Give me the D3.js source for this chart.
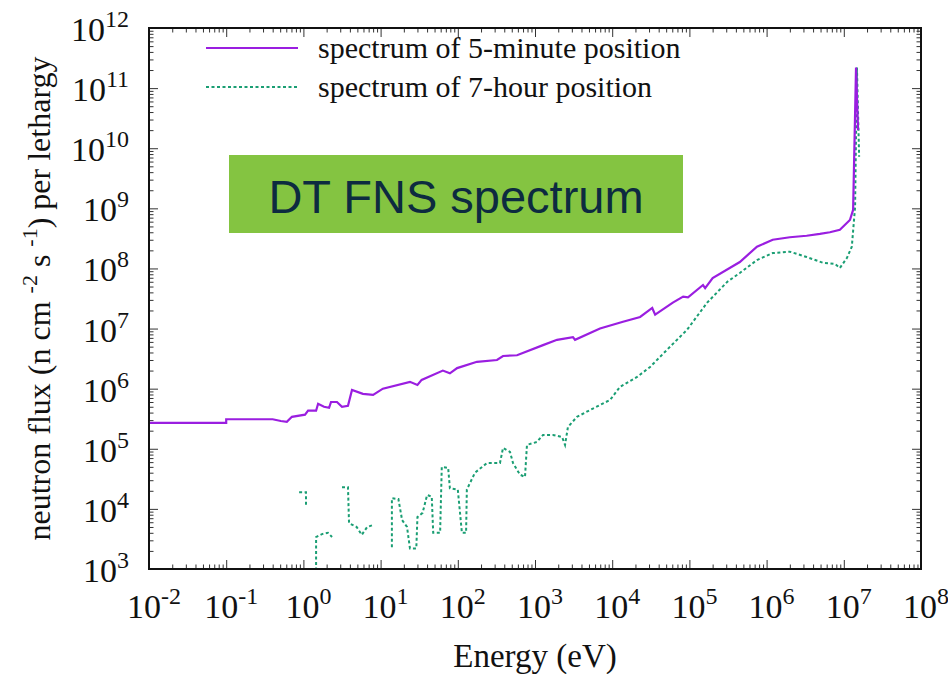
<!doctype html>
<html>
<head>
<meta charset="utf-8">
<script src="https://d3js.org/d3.v7.min.js"></script>
<style>
body {margin: 0; background: white;}
text {font-family: "Liberation Serif", "Times New Roman", serif; fill: #111;}
</style>
</head>
<body>
<svg width="948" height="674" class="chart"></svg>
<script>

// 5-minute position spectrum (energy eV, flux per lethargy)
var fiveMinE = [0.01, 0.1, 0.1, 0.40, 0.51, 0.61, 0.71, 1.05, 1.15, 1.46,
  1.55, 1.85, 2.15, 2.28, 2.72, 3.16, 3.78, 4.26, 5.9, 8.0,
  10.7, 24, 30, 34, 64, 79, 98, 177, 322, 385,
  585, 1270, 1930, 3100, 3300, 6950, 1.38e4, 2.3e4, 3.3e4, 3.6e4,
  6.1e4, 8.3e4, 9.6e4, 1.5e5, 1.6e5, 2.0e5, 4.5e5, 7.5e5, 1.2e6, 2.0e6,
  3.3e6, 4.9e6, 6.6e6, 8.9e6, 1.2e7, 1.32e7, 1.44e7, 1.53e7];
var fiveMinFlux = [2.7e5, 2.7e5, 3.1e5, 3.1e5, 2.9e5, 2.8e5, 3.4e5, 3.7e5, 4.3e5, 4.3e5,
  5.6e5, 5.0e5, 4.8e5, 6.0e5, 6.0e5, 5.0e5, 5.2e5, 9.5e5, 8.2e5, 7.9e5,
  1.0e6, 1.3e6, 1.15e6, 1.4e6, 2.0e6, 1.8e6, 2.2e6, 2.8e6, 3.0e6, 3.5e6,
  3.6e6, 5.3e6, 6.5e6, 7.2e6, 6.5e6, 1.0e7, 1.3e7, 1.56e7, 2.2e7, 1.7e7,
  2.7e7, 3.4e7, 3.3e7, 5.3e7, 4.7e7, 6.9e7, 1.28e8, 2.3e8, 3.0e8, 3.3e8,
  3.5e8, 3.75e8, 4.0e8, 4.4e8, 6.4e8, 9.4e8, 2.2e11, 2.0e10];

// 7-hour position spectrum, null = empty bins (gaps in the line)
var sevenHourE = [0.88, 1.08, 1.08, 1.2,
  1.46, 1.46, 1.74, 2.08, 2.35, 2.8,
  3.16, 3.78, 3.9, 4.9, 5.7, 6.7, 8.0, 10,
  14, 14, 17, 19, 22, 24, 29, 30, 35, 40,
  46, 48, 59, 62, 75, 79, 100, 113, 128, 131,
  167, 239, 352, 385, 474, 519, 640, 742, 787, 1060,
  1270, 1710, 2240, 2450, 2670, 3500, 5150, 9400, 1.26e4, 2.1e4,
  3.1e4, 5.1e4, 9.3e4, 1.7e5, 3.1e5, 4.5e5, 7.5e5, 1.2e6, 2.0e6, 3.3e6,
  5.4e6, 7.7e6, 8.9e6, 1.1e7, 1.27e7, 1.4e7, 1.48e7, 1.58e7];
var sevenHourFlux = [1.9e4, 1.9e4, 1.08e4, null,
  5e2, 3.4e3, 3.8e3, 4.0e3, 3.4e3, null,
  2.3e4, 2.3e4, 5.8e3, 5.0e3, 3.7e3, 5.0e3, 5.4e3, null,
  2.3e3, 1.5e4, 1.46e4, 6.5e3, 5.0e3, 2.2e3, 2.2e3, 7.3e3, 8.6e3, 1.7e4,
  1.6e4, 4.0e3, 4.0e3, 5.0e4, 4.8e4, 2.2e4, 2.1e4, 4.0e3, 4.0e3, 2.1e4,
  4.0e4, 5.8e4, 5.8e4, 1.03e5, 8.9e4, 5.8e4, 3.7e4, 3.4e4, 1.16e5, 1.3e5,
  1.7e5, 1.7e5, 1.57e5, 1.16e5, 2.3e5, 3.4e5, 4.4e5, 6.5e5, 1.07e6, 1.57e6,
  2.3e6, 4.4e6, 9.5e6, 2.7e7, 6.0e7, 8.4e7, 1.38e8, 1.8e8, 1.9e8, 1.55e8,
  1.24e8, 1.19e8, 1.02e8, 1.5e8, 2.3e8, 1.05e9, 2.2e11, 7.2e9];

var xExponents = [-2, -1, 0, 1, 2, 3, 4, 5, 6, 7, 8];
var yExponents = [3, 4, 5, 6, 7, 8, 9, 10, 11, 12];
var seriesNames = ["spectrum of 5-minute position", "spectrum of 7-hour position"];
var boxLabel = "DT FNS spectrum";

// note: "top" is taken by window.top, so use plot* names
var svg = d3.select(".chart"),
    plotLeft = 149, plotTop = 28, plotRight = 921, plotBottom = 569;

var xScale = d3.scaleLog().domain([1e-2, 1e8]).range([plotLeft, plotRight]),
    yScale = d3.scaleLog().domain([1e3, 1e12]).range([plotBottom, plotTop]);

// minor ticks 2..9 in each decade
var xMinor = [], yMinor = [];
xExponents.slice(0, -1).forEach(function(e) {
  for (var k = 2; k < 10; k++) xMinor.push(k * Math.pow(10, e));
});
yExponents.slice(0, -1).forEach(function(e) {
  for (var k = 2; k < 10; k++) yMinor.push(k * Math.pow(10, e));
});
var xMajor = xExponents.map(function(e) { return Math.pow(10, e); });
var yMajor = yExponents.map(function(e) { return Math.pow(10, e); });

function tickAxis(axis, values, size) {
  return axis.tickValues(values).tickSizeInner(size).tickSizeOuter(0).tickFormat("");
}

var axes = svg.append("g").attr("class", "axes");
[[xMajor, 9], [xMinor, 4.5]].forEach(function(t) {
  axes.append("g").attr("transform", "translate(0," + plotBottom + ")")
    .call(tickAxis(d3.axisBottom(xScale), t[0], -t[1]));
  axes.append("g").attr("transform", "translate(0," + plotTop + ")")
    .call(tickAxis(d3.axisTop(xScale), t[0], -t[1]));
});
[[yMajor, 9], [yMinor, 4.5]].forEach(function(t) {
  axes.append("g").attr("transform", "translate(" + plotLeft + ",0)")
    .call(tickAxis(d3.axisLeft(yScale), t[0], -t[1]));
  axes.append("g").attr("transform", "translate(" + plotRight + ",0)")
    .call(tickAxis(d3.axisRight(yScale), t[0], -t[1]));
});
axes.selectAll(".domain").remove();
axes.selectAll(".tick line").attr("stroke", "#333").attr("stroke-width", 1);

// clip for data
svg.append("clipPath").attr("id", "plotclip")
  .append("rect").attr("x", plotLeft).attr("y", plotTop)
  .attr("width", plotRight - plotLeft).attr("height", plotBottom - plotTop);

var line = d3.line()
  .defined(function(d) { return d[1] != null; })
  .x(function(d) { return xScale(d[0]); })
  .y(function(d) { return yScale(d[1]); });

var fiveMin = fiveMinE.map(function(e, i) { return [e, fiveMinFlux[i]]; });
var sevenHour = sevenHourE.map(function(e, i) { return [e, sevenHourFlux[i]]; });

var plot = svg.append("g").attr("clip-path", "url(#plotclip)");

plot.append("path")
  .datum(sevenHour)
  .attr("d", line)
  .style("fill", "none")
  .style("stroke", "#1a9e73")
  .style("stroke-width", 2)
  .style("stroke-dasharray", "3,2.5");

plot.append("path")
  .datum(fiveMin)
  .attr("d", line)
  .style("fill", "none")
  .style("stroke", "#9a1ee0")
  .style("stroke-width", 2.2);

// border
svg.append("rect")
  .attr("x", plotLeft).attr("y", plotTop)
  .attr("width", plotRight - plotLeft).attr("height", plotBottom - plotTop)
  .style("fill", "none").style("stroke", "#111").style("stroke-width", 2);

// tick labels 10^n
function powerLabel(sel, e) {
  sel.append("tspan").text("10");
  sel.append("tspan").attr("dy", -14).style("font-size", "24px").text(e);
}

svg.append("g").selectAll("text")
  .data(xExponents)
  .join("text")
  .attr("x", function(e) { return xScale(Math.pow(10, e)) + 5; })
  .attr("y", 618)
  .attr("text-anchor", "middle")
  .style("font-size", "34px")
  .each(function(e) { powerLabel(d3.select(this), e); });

svg.append("g").selectAll("text")
  .data(yExponents)
  .join("text")
  .attr("x", 129)
  .attr("y", function(e) { return yScale(Math.pow(10, e)) + 13; })
  .attr("text-anchor", "end")
  .style("font-size", "34px")
  .each(function(e) { powerLabel(d3.select(this), e); });

// axis titles
svg.append("text")
  .attr("x", (plotLeft + plotRight) / 2)
  .attr("y", 667)
  .attr("text-anchor", "middle")
  .style("font-size", "33px")
  .text("Energy (eV)");

var ylab = svg.append("text")
  .attr("transform", "translate(50," + ((plotTop + plotBottom) / 2) + ")rotate(-90)")
  .attr("text-anchor", "middle")
  .style("font-size", "32px");
ylab.append("tspan").text("neutron flux (n cm ");
ylab.append("tspan").attr("dy", -13).style("font-size", "22px").text("-2");
ylab.append("tspan").attr("dy", 13).text(" s ");
ylab.append("tspan").attr("dy", -13).style("font-size", "22px").text("-1");
ylab.append("tspan").attr("dy", 13).text(") per lethargy");

// legend
var legend = svg.append("g");
var legendStyles = [
  {stroke: "#9a1ee0", dash: null},
  {stroke: "#1a9e73", dash: "3,2.5"}
];
seriesNames.forEach(function(name, i) {
  var y = 48 + i * 39;
  legend.append("line")
    .attr("x1", 206).attr("x2", 298)
    .attr("y1", y).attr("y2", y)
    .style("stroke", legendStyles[i].stroke)
    .style("stroke-width", 2)
    .style("stroke-dasharray", legendStyles[i].dash);
  legend.append("text")
    .attr("x", 318).attr("y", y + 10)
    .style("font-size", "30px")
    .text(name);
});

// green annotation box
svg.append("rect")
  .attr("x", 229).attr("y", 155)
  .attr("width", 454).attr("height", 78)
  .style("fill", "#84c441");
svg.append("text")
  .attr("x", 456).attr("y", 213)
  .attr("text-anchor", "middle")
  .style("font-family", "'Liberation Sans', Arial, sans-serif")
  .style("font-size", "47px")
  .style("fill", "#0d2b40")
  .text(boxLabel);

</script>
</body>
</html>
